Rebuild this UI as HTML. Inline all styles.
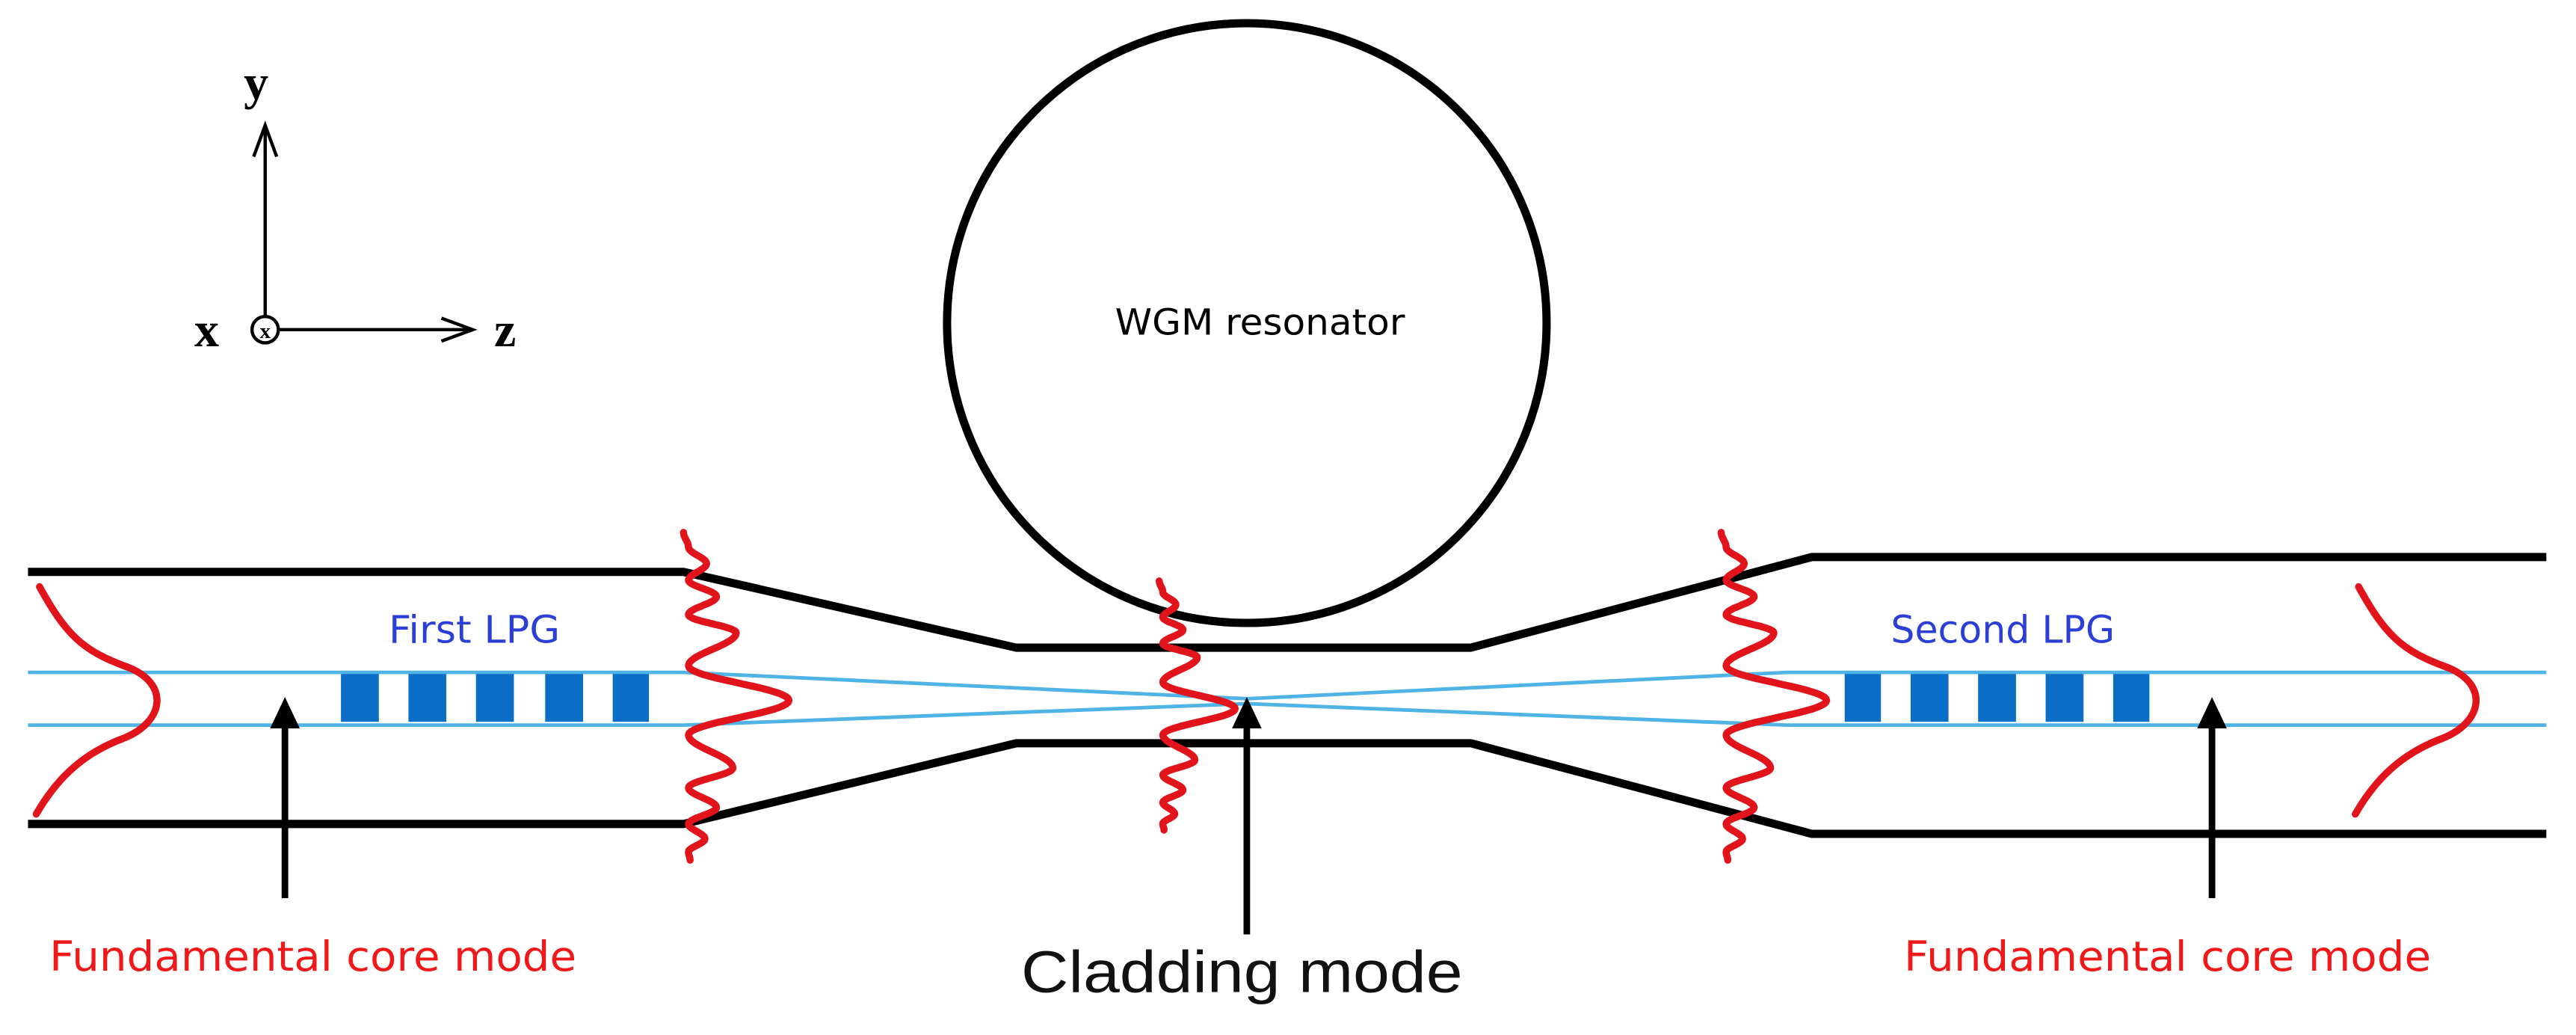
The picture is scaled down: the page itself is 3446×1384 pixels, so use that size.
<!DOCTYPE html>
<html><head><meta charset="utf-8"><style>
html,body{margin:0;padding:0;background:#fff;}
svg{display:block;}
</style></head><body>
<svg id="s" width="3446" height="1384" viewBox="0 0 1564 628" xmlns="http://www.w3.org/2000/svg">
<rect width="1564" height="628" fill="#fff"/>
<g stroke="#000" stroke-width="2" fill="none">
<line x1="161" y1="192" x2="161" y2="77"/>
<polyline points="154,95 161,76 168,95"/>
<circle cx="161" cy="200" r="8"/>
<line x1="169" y1="200" x2="286" y2="200"/>
<polyline points="268,193 287,200 268,207"/>
</g>
<g font-family="Liberation Serif, serif" font-weight="bold" font-size="30" fill="#000">
<text x="148" y="60">y</text>
<text x="118" y="210">x</text>
<text x="300" y="210">z</text>
</g>
<text x="161" y="205" font-family="Liberation Serif, serif" font-weight="bold" font-size="13" text-anchor="middle">x</text>
<circle cx="757" cy="196" r="182" fill="none" stroke="#000" stroke-width="5"/>
<text x="765" y="203" font-family="DejaVu Sans, sans-serif" font-size="22" text-anchor="middle" fill="#000" textLength="176" lengthAdjust="spacingAndGlyphs">WGM resonator</text>
<g stroke="#000" stroke-width="5" fill="none" stroke-linejoin="round">
<polyline points="17,347 415,347 617,393 893,393 1100,338 1546,338"/>
<polyline points="17,500 415,500 617,451 893,451 1100,506 1546,506"/>
</g>
<g stroke="#4fb3e6" stroke-width="2.2" fill="none">
<polyline points="17,408 415,408 757,424 1085,408 1546,408"/>
<polyline points="17,440 415,440 757,427 1085,440 1546,440"/>
</g>
<g fill="#0a6ec6">
<rect x="207" y="409" width="23" height="29"/><rect x="248" y="409" width="23" height="29"/><rect x="289" y="409" width="23" height="29"/><rect x="331" y="409" width="23" height="29"/><rect x="372" y="409" width="22" height="29"/>
<rect x="1120" y="409" width="22" height="29"/><rect x="1160" y="409" width="23" height="29"/><rect x="1201" y="409" width="23" height="29"/><rect x="1242" y="409" width="23" height="29"/><rect x="1283" y="409" width="22" height="29"/>
</g>
<g stroke="#000" stroke-width="4">
<line x1="173" y1="545" x2="173" y2="440"/>
<line x1="757" y1="567" x2="757" y2="440"/>
<line x1="1343" y1="545" x2="1343" y2="440"/>
</g>
<g fill="#000">
<polygon points="173,423 164,442 182,442"/>
<polygon points="757,423 748,442 766,442"/>
<polygon points="1343,423 1334,442 1352,442"/>
</g>
<g id="red" stroke="#e0141a" stroke-width="4.3" fill="none" stroke-linecap="round" stroke-linejoin="round">
<path d="M24,356 C40,385 50,395 78,405 C103,415 100,438 75,448 C48,458 33,475 22,494"/>
<path d="M1432,356 C1448,385 1458,395 1486,405 C1511,415 1508,438 1483,448 C1456,458 1441,475 1430,494"/>
</g>
<text x="288" y="390" font-family="DejaVu Sans, sans-serif" font-size="23" text-anchor="middle" fill="#2b3ed6" textLength="104" lengthAdjust="spacingAndGlyphs">First LPG</text>
<text x="1216" y="390" font-family="DejaVu Sans, sans-serif" font-size="23" text-anchor="middle" fill="#2b3ed6" textLength="136" lengthAdjust="spacingAndGlyphs">Second LPG</text>
<text x="30" y="589" font-family="DejaVu Sans, sans-serif" font-size="25" fill="#f01818" textLength="320" lengthAdjust="spacingAndGlyphs">Fundamental core mode</text>
<text x="1156" y="589" font-family="DejaVu Sans, sans-serif" font-size="25" fill="#f01818" textLength="320" lengthAdjust="spacingAndGlyphs">Fundamental core mode</text>
<text x="754" y="602" font-family="Liberation Sans, sans-serif" font-size="36" text-anchor="middle" fill="#111" textLength="268" lengthAdjust="spacingAndGlyphs">Cladding mode</text>
</svg>
<script>
(function(){
var g=document.getElementById('red');
var K=[[-102,-3],[-93,0],[-83,11],[-73,0],[-63,17],[-52,0],[-41,29],[-21,0],[0,61],[21,0],[41,27],[53,0],[65,17],[75,0],[84,10],[92,0],[97,1]];
function wave(x0,cy,sy,sx){
 var d='M'+(x0+K[0][1]*sx).toFixed(1)+','+(cy+K[0][0]*sy).toFixed(1);
 for(var i=0;i<K.length-1;i++){
  var a=K[i],b=K[i+1];
  for(var t=0.05;t<=1.001;t+=0.05){
   var y=cy+(a[0]+(b[0]-a[0])*t)*sy;
   var f=(1-Math.cos(Math.PI*t))/2;
   var x=x0+(a[1]+(b[1]-a[1])*f)*sx;
   d+='L'+x.toFixed(1)+','+y.toFixed(1);
  }
 }
 var p=document.createElementNS('http://www.w3.org/2000/svg','path');
 p.setAttribute('d',d);g.appendChild(p);
}
wave(418,425,1,1);
wave(706,430,0.76,0.72);
wave(1048,425,1,1);
})();
</script>
</body></html>
